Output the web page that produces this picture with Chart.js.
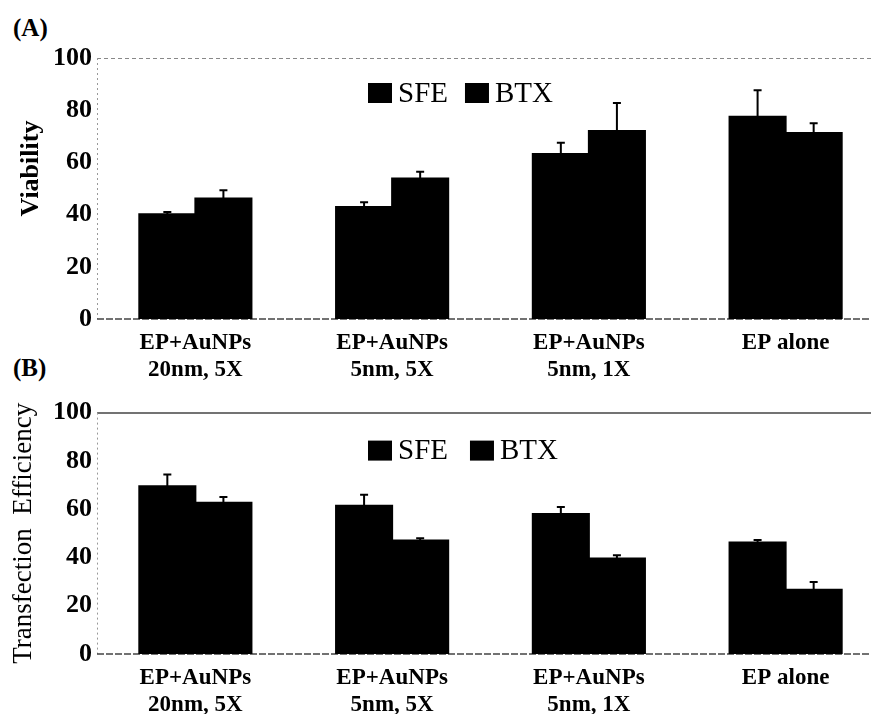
<!DOCTYPE html>
<html>
<head>
<meta charset="utf-8">
<script src="https://cdn.jsdelivr.net/npm/chart.js@4.4.1/dist/chart.umd.min.js"></script>
<style>
  html, body { margin: 0; padding: 0; background: #fff; overflow: hidden; }
  body { width: 871px; height: 714px; position: relative; }
  .panel { position: absolute; left: 0; width: 885px; }
  #panelA { top: 0; height: 392px; }
  #panelB { top: 392px; height: 322px; }
  .tag { position: absolute; left: 13px; font: bold 25px "Liberation Serif", serif; color: #000; }
</style>
</head>
<body>
<div class="tag" style="top:14px">(A)</div>
<div class="tag" style="top:354px">(B)</div>
<div class="panel" id="panelA"><canvas id="chartA"></canvas></div>
<div class="panel" id="panelB"><canvas id="chartB"></canvas></div>
<script>
// Treatment groups
const categories = [
  ['EP+AuNPs', '20nm, 5X'],
  ['EP+AuNPs', '5nm, 5X'],
  ['EP+AuNPs', '5nm, 1X'],
  'EP alone'
];
const seriesNames = ['SFE', 'BTX'];
const yTicks = [0, 20, 40, 60, 80, 100];

// (A) Viability
const viabilitySFE = [40.1, 42.9, 63.2, 77.5];
const viabilitySFEErr = [0.9, 1.8, 4.3, 10.1];
const viabilityBTX = [46.2, 53.8, 72.0, 71.3];
const viabilityBTXErr = [3.1, 2.6, 10.8, 3.7];

// (B) Transfection efficiency
const transfectionSFE = [69.5, 61.4, 58.0, 46.2];
const transfectionSFEErr = [4.9, 4.6, 2.9, 1.0];
const transfectionBTX = [62.7, 47.0, 39.6, 26.6];
const transfectionBTXErr = [2.3, 1.0, 1.3, 3.2];

const SERIF = '"Liberation Serif", "Times New Roman", serif';

// Upper error bars with a short cap, placed from each bar's value + error
const errorBars = {
  id: 'errorBars',
  afterDatasetsDraw(chart) {
    const ctx = chart.ctx;
    const yScale = chart.scales.y;
    ctx.save();
    ctx.strokeStyle = '#000';
    ctx.lineWidth = 2;
    chart.data.datasets.forEach((ds, i) => {
      const meta = chart.getDatasetMeta(i);
      meta.data.forEach((bar, j) => {
        const top = yScale.getPixelForValue(ds.data[j] + ds.errors[j]);
        ctx.beginPath();
        ctx.moveTo(bar.x, bar.y);
        ctx.lineTo(bar.x, top);
        ctx.moveTo(bar.x - 4, top);
        ctx.lineTo(bar.x + 4, top);
        ctx.stroke();
      });
    });
    ctx.restore();
  }
};

// Plot frame: dotted left edge, top rule, dashed baseline
const frame = {
  id: 'frame',
  beforeDatasetsDraw(chart, args, opts) {
    const { left, right, top, bottom } = chart.chartArea;
    const ctx = chart.ctx;
    ctx.save();
    ctx.lineWidth = opts.topWidth;
    ctx.strokeStyle = opts.topColor;
    ctx.setLineDash(opts.topDash);
    ctx.beginPath(); ctx.moveTo(left, top + 0.5); ctx.lineTo(right, top + 0.5); ctx.stroke();
    ctx.lineWidth = 1;
    ctx.strokeStyle = '#999';
    ctx.setLineDash([2, 3]);
    ctx.beginPath(); ctx.moveTo(left + 0.5, top); ctx.lineTo(left + 0.5, bottom); ctx.stroke();
    ctx.strokeStyle = '#444';
    ctx.lineWidth = 1.5;
    ctx.setLineDash([7, 2]);
    ctx.beginPath(); ctx.moveTo(left, bottom); ctx.lineTo(right, bottom); ctx.stroke();
    ctx.restore();
  }
};

// Legend row drawn inside the plot, below the top rule
const innerLegend = {
  id: 'innerLegend',
  afterDraw(chart, args, opts) {
    const ctx = chart.ctx;
    const { top } = chart.chartArea;
    const cy = top + opts.offsetY;
    ctx.save();
    ctx.font = '29px ' + SERIF;
    ctx.textBaseline = 'middle';
    ctx.textAlign = 'left';
    let x = opts.startX;
    chart.data.datasets.forEach((ds) => {
      ctx.fillStyle = ds.backgroundColor;
      ctx.fillRect(x, cy - 10, 24, 20);
      ctx.fillStyle = '#000';
      ctx.fillText(ds.label, x + 30, cy + 1);
      x += 30 + ctx.measureText(ds.label).width + opts.gap;
    });
    ctx.restore();
  }
};

// Rotated y-axis caption
const sideCaption = {
  id: 'sideCaption',
  afterDraw(chart, args, opts) {
    const ctx = chart.ctx;
    const { top, bottom } = chart.chartArea;
    ctx.save();
    ctx.translate(opts.x, (top + bottom) / 2 + opts.shiftY);
    ctx.rotate(-Math.PI / 2);
    ctx.font = opts.font;
    ctx.fillStyle = '#000';
    ctx.textAlign = 'center';
    ctx.textBaseline = 'middle';
    ctx.fillText(opts.text, 0, 0);
    ctx.restore();
  }
};

function makeChart(canvasId, sfe, sfeErr, btx, btxErr, cfg) {
  return new Chart(document.getElementById(canvasId), {
    type: 'bar',
    data: {
      labels: categories,
      datasets: [
        { label: seriesNames[0], data: sfe, errors: sfeErr, backgroundColor: '#000' },
        { label: seriesNames[1], data: btx, errors: btxErr, backgroundColor: '#000' }
      ]
    },
    options: {
      responsive: true,
      maintainAspectRatio: false,
      animation: false,
      layout: { padding: { top: cfg.padTop, left: 0, right: 1, bottom: 0 } },
      datasets: { bar: { categoryPercentage: 0.57, barPercentage: 1.0, borderWidth: 0, inflateAmount: 1 } },
      scales: {
        x: {
          grid: { display: false },
          border: { display: false },
          ticks: {
            color: '#000',
            padding: 2,
            maxRotation: 0,
            autoSkip: false,
            font: { family: SERIF, size: 23, weight: 'bold', lineHeight: 1.2 }
          },
          afterFit(scale) { scale.height = cfg.xHeight; }
        },
        y: {
          min: 0,
          max: 100,
          afterBuildTicks(scale) { scale.ticks = yTicks.map(v => ({ value: v })); },
          grid: { display: false, drawTicks: false },
          border: { display: false },
          ticks: {
            color: '#000',
            padding: 5,
            font: { family: SERIF, size: 26, weight: 'bold' }
          },
          afterFit(scale) { scale.width = 97; }
        }
      },
      plugins: {
        legend: { display: false },
        tooltip: { enabled: false },
        frame: { topColor: cfg.topColor, topDash: cfg.topDash, topWidth: cfg.topWidth },
        innerLegend: { startX: 368, gap: cfg.legendGap, offsetY: cfg.legendOffset },
        sideCaption: cfg.caption
      }
    },
    plugins: [frame, errorBars, innerLegend, sideCaption]
  });
}

makeChart('chartA', viabilitySFE, viabilitySFEErr, viabilityBTX, viabilityBTXErr, {
  padTop: 58, xHeight: 73, topColor: '#888', topDash: [4, 3], topWidth: 1, legendGap: 17, legendOffset: 35,
  caption: { text: 'Viability', x: 31, shiftY: -20, font: 'bold 26px ' + SERIF }
});

makeChart('chartB', transfectionSFE, transfectionSFEErr, transfectionBTX, transfectionBTXErr, {
  padTop: 19, xHeight: 60, topColor: '#444', topDash: [], topWidth: 1.5, legendGap: 22, legendOffset: 38,
  caption: { text: 'Transfection  Efficiency', x: 24, shiftY: 0, font: '27px ' + SERIF }
});
</script>
</body>
</html>
